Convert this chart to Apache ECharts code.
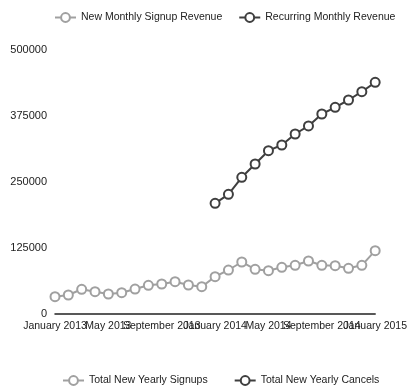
<!DOCTYPE html>
<html>
<head>
<meta charset="utf-8">
<script src="https://cdn.jsdelivr.net/npm/echarts@6/dist/echarts.min.js"></script>
<style>
    html, body { margin: 0; padding: 0; background: #fff; }
    #chart { width: 410px; height: 389px; }
</style>
</head>
<body>
<div id="chart"></div>
<script>
// months Jan 2013 .. Jan 2015
var months = [
    'January 2013', 'February 2013', 'March 2013', 'April 2013', 'May 2013', 'June 2013',
    'July 2013', 'August 2013', 'September 2013', 'October 2013', 'November 2013', 'December 2013',
    'January 2014', 'February 2014', 'March 2014', 'April 2014', 'May 2014', 'June 2014',
    'July 2014', 'August 2014', 'September 2014', 'October 2014', 'November 2014', 'December 2014',
    'January 2015'
]
var newMonthlySignup = [
    32800, 36000, 46800, 42200, 37900, 40300, 47300, 54400, 56800, 61200, 54900, 51700,
    70700, 83300, 98500, 84700, 82000, 88400, 92200, 100400, 92200, 91500, 86600, 92200,
    119900
]
// recurring revenue only starts in January 2014
var recurringMonthly = [
    '-', '-', '-', '-', '-', '-', '-', '-', '-', '-', '-', '-',
    209600, 226700, 258900, 284100, 309300, 320100, 340900, 356100, 378800, 391500, 405300, 421000,
    438800
]
var yearlySignups = []
var yearlyCancels = []

var lightGray = '#a0a0a0'
var darkGray = '#3f3f3f'

function lineSeries(name, data, color) {
    return {
        name: name,
        type: 'line',
        data: data,
        symbol: 'emptyCircle',
        symbolSize: 9,
        showAllSymbol: true,
        lineStyle: { color: color, width: 2 },
        itemStyle: { color: color, borderColor: color, borderWidth: 3.2 }
    }
}

var chart = echarts.init(document.getElementById('chart'))
var option = {
    backgroundColor: '#fff',
    animation: false,
    textStyle: { fontFamily: 'Liberation Sans, Arial, sans-serif' },
    legend: [
        {
            data: ['New Monthly Signup Revenue', 'Recurring Monthly Revenue'],
            left: 49,
            top: 7,
            width: 400,
            itemGap: 16,
            itemWidth: 21,
            itemHeight: 11,
            textStyle: { fontSize: 10.5, color: '#222' }
        },
        {
            data: ['Total New Yearly Signups', 'Total New Yearly Cancels'],
            left: 57,
            top: 370,
            width: 400,
            itemGap: 26,
            itemWidth: 21,
            itemHeight: 11,
            textStyle: { fontSize: 10.5, color: '#222' }
        }
    ],
    grid: { left: 55, right: 31, top: 50, bottom: 75, containLabel: false },
    xAxis: {
        type: 'category',
        data: months,
        boundaryGap: false,
        axisLine: { lineStyle: { color: '#222', width: 1.5 } },
        axisTick: { show: false },
        axisLabel: {
            // every 4th month, drawn even where they overlap
            interval: 0,
            formatter: function (v, i) { return i % 4 === 0 ? v : '' },
            color: '#222', fontSize: 10.5, margin: 7
        },
        splitLine: { show: false }
    },
    yAxis: {
        type: 'value',
        min: 0,
        max: 500000,
        interval: 125000,
        axisLine: { show: false },
        axisTick: { show: false },
        axisLabel: { color: '#222', fontSize: 11, margin: 8, formatter: function (v) { return String(v) } },
        splitLine: { show: false }
    },
    series: [
        lineSeries('New Monthly Signup Revenue', newMonthlySignup, lightGray),
        lineSeries('Recurring Monthly Revenue', recurringMonthly, darkGray),
        lineSeries('Total New Yearly Signups', yearlySignups, lightGray),
        lineSeries('Total New Yearly Cancels', yearlyCancels, darkGray)
    ]
}
chart.setOption(option)
</script>
</body>
</html>
